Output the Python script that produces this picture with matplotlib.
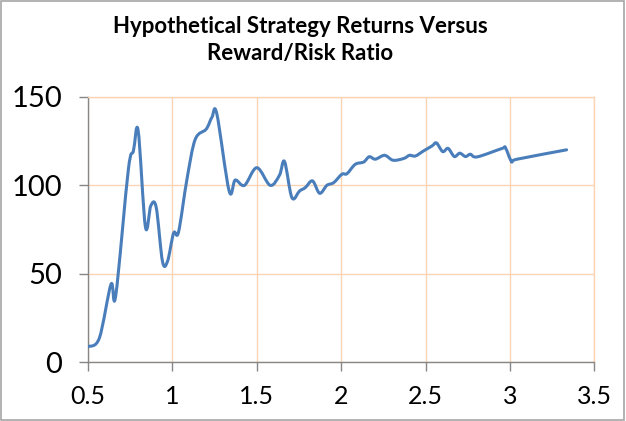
import matplotlib
matplotlib.use("Agg")
import matplotlib.pyplot as plt
from matplotlib.path import Path
from matplotlib.patches import PathPatch, Rectangle

# ── Données ───────────────────────────────────────────────────────────────────
ratio = [
    0.500, 0.567, 0.636, 0.664, 0.739, 0.769, 0.797, 0.840, 0.872, 0.904,
    0.941, 0.971, 1.007, 1.036, 1.086, 1.135, 1.200, 1.234, 1.263, 1.336,
    1.372, 1.427, 1.500, 1.579, 1.634, 1.664, 1.708, 1.753, 1.787, 1.830,
    1.872, 1.915, 1.955, 2.004, 2.034, 2.083, 2.133, 2.166, 2.202, 2.257,
    2.307, 2.370, 2.405, 2.439, 2.488, 2.538, 2.564, 2.601, 2.633, 2.670,
    2.702, 2.736, 2.765, 2.805, 2.953, 2.973, 3.009, 3.042, 3.335,
]
rendement = [
    8.7, 13.5, 44.0, 37.5, 109.0, 119.5, 131.0, 76.5, 88.5, 87.5,
    57.0, 57.0, 73.0, 73.5, 103.4, 126.0, 131.8, 138.5, 140.5, 96.8,
    103.0, 100.0, 110.0, 100.0, 105.7, 113.5, 93.0, 96.8, 98.7, 102.5,
    95.5, 100.0, 101.5, 106.3, 106.6, 111.9, 113.2, 116.2, 114.8, 117.0,
    114.2, 115.2, 117.0, 116.6, 119.5, 122.3, 124.0, 119.1, 120.9, 116.3,
    118.2, 116.3, 117.6, 116.1, 120.9, 121.2, 113.5, 114.8, 120.1,
]
x_ticks = [0.5, 1, 1.5, 2, 2.5, 3, 3.5]
y_ticks = [0, 50, 100, 150]

TITRE = "Hypothetical Strategy Returns Versus\nReward/Risk Ratio"
BLEU = "#4a7ebb"
GRILLE = "#fbd4b4"
GRIS = "#868686"
POLICE = ["Lato", "DejaVu Sans"]


def _chemin_lisse(xs, ys):
    # Lissage façon Excel : Bézier cubiques de type Catmull-Rom
    pts = list(zip(xs, ys))
    verts = [pts[0]]
    codes = [Path.MOVETO]
    n = len(pts)
    for i in range(n - 1):
        p0 = pts[i - 1] if i > 0 else pts[i]
        p1 = pts[i]
        p2 = pts[i + 1]
        p3 = pts[i + 2] if i + 2 < n else pts[i + 1]
        c1 = (p1[0] + (p2[0] - p0[0]) / 6, p1[1] + (p2[1] - p0[1]) / 6)
        c2 = (p2[0] - (p3[0] - p1[0]) / 6, p2[1] - (p3[1] - p1[1]) / 6)
        verts += [c1, c2, p2]
        codes += [Path.CURVE4] * 3
    return Path(verts, codes)


fig = plt.figure(figsize=(6.26, 4.21), dpi=100)
fig.patch.set_facecolor("white")
ax = fig.add_axes([0.1406, 0.1401, 0.809, 0.6295])

ax.set_xlim(0.5, 3.5)
ax.set_ylim(0, 150)
ax.set_xticks(x_ticks)
ax.set_xticklabels([f"{v:g}" for v in x_ticks], fontsize=18, family=POLICE)
ax.set_yticks(y_ticks)
ax.set_yticklabels([str(v) for v in y_ticks], fontsize=21, family=POLICE)

ax.grid(True, color=GRILLE, linewidth=1.0)
ax.set_axisbelow(True)
for cote in ("top", "right"):
    ax.spines[cote].set_color(GRILLE)
    ax.spines[cote].set_linewidth(1.0)
for cote in ("left", "bottom"):
    ax.spines[cote].set_color(GRIS)
    ax.spines[cote].set_linewidth(1.0)
ax.tick_params(axis="both", direction="out", length=6.5, width=1.0, color=GRIS,
               labelcolor="black")
ax.tick_params(axis="x", pad=10)
ax.tick_params(axis="y", pad=12)

ax.add_patch(PathPatch(_chemin_lisse(ratio, rendement), fill=False,
                       edgecolor=BLEU, linewidth=2.2, capstyle="round",
                       joinstyle="round", zorder=3))

fig.text(0.48, 0.905, TITRE, ha="center", va="center", fontsize=16,
         fontweight="bold", family=POLICE, linespacing=1.3)

fig.patches.append(Rectangle((0.0015, 0.002), 0.996, 0.995, transform=fig.transFigure,
                             fill=False, edgecolor="#a6a6a6", linewidth=1.2))

fig.savefig("out.png", dpi=100)
